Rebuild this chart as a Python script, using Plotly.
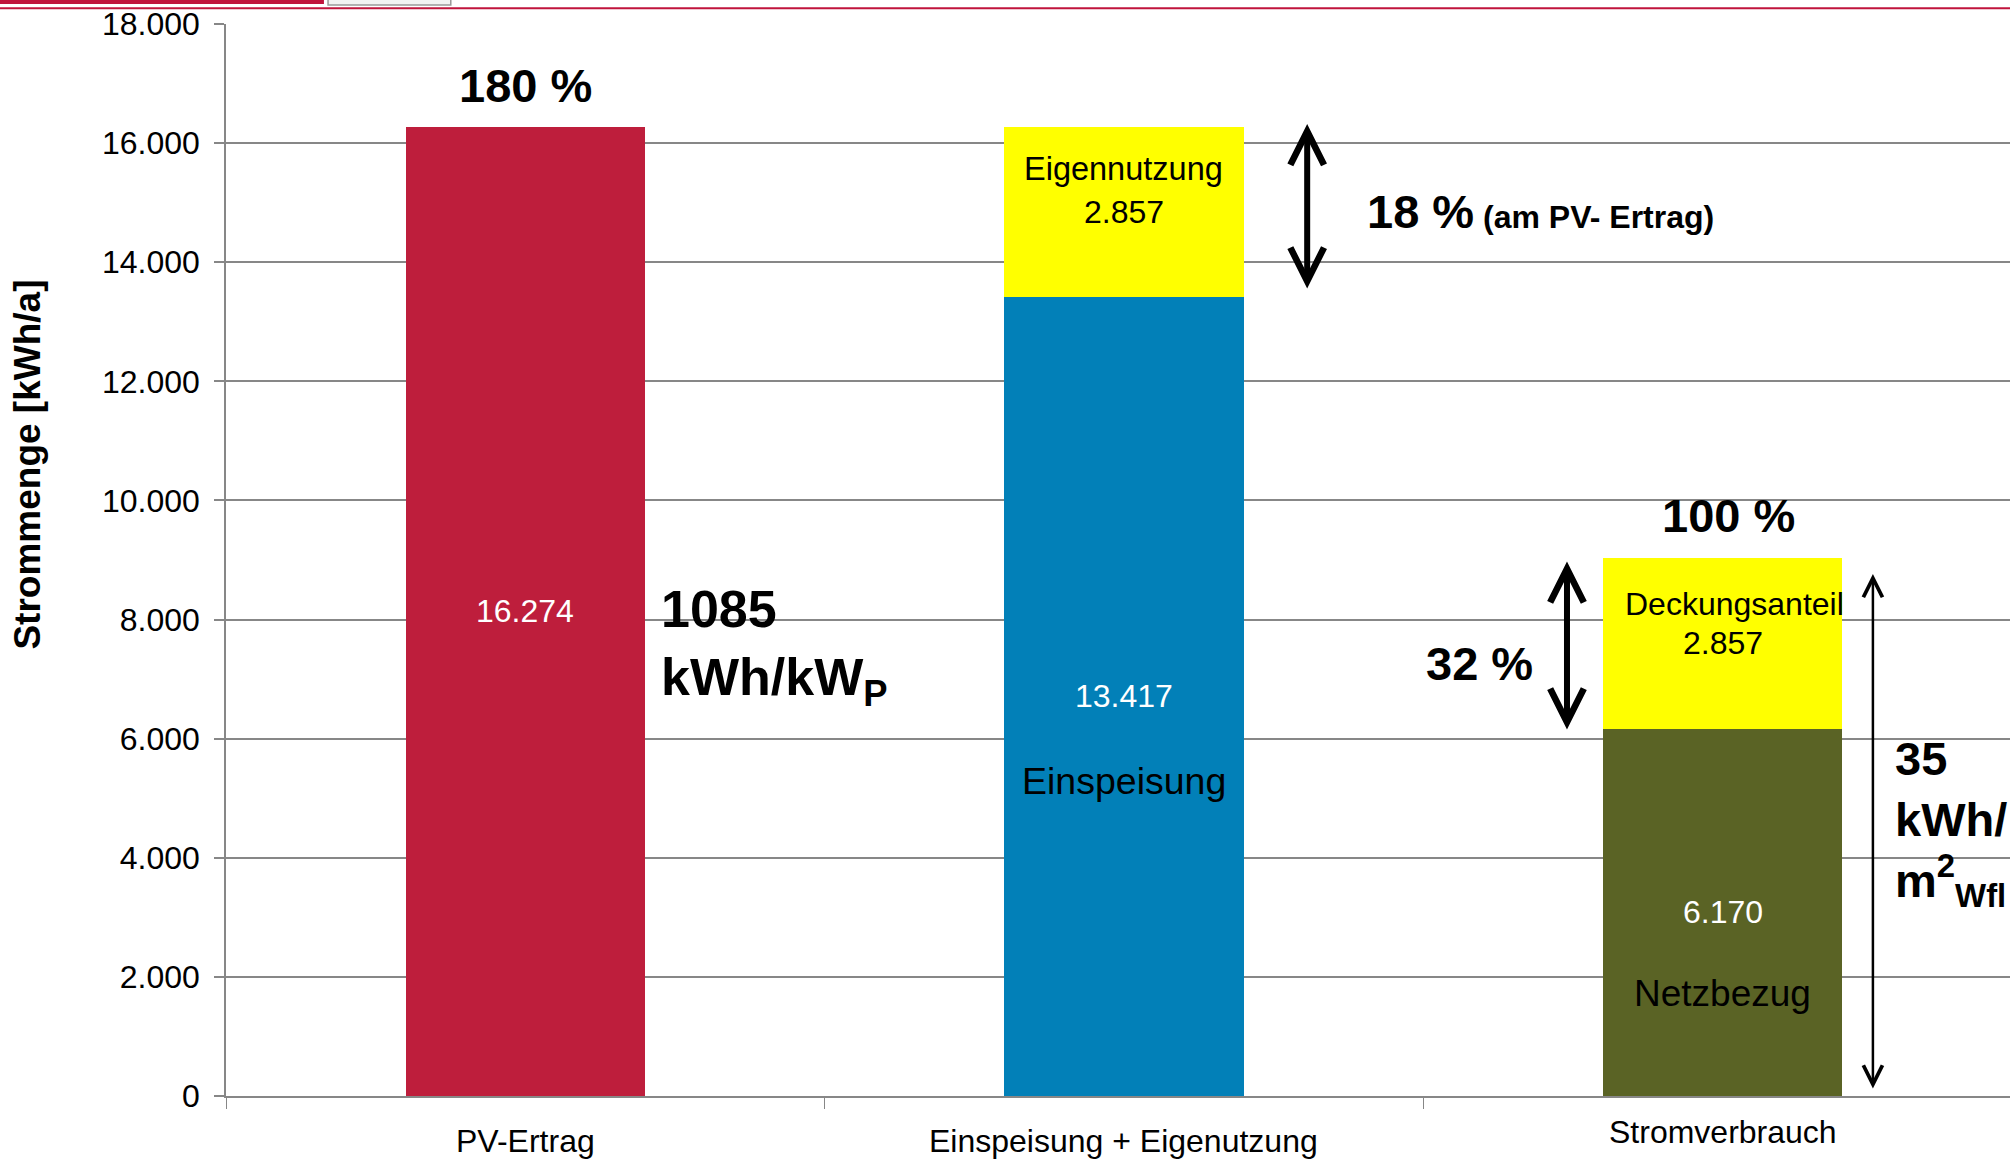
import plotly.graph_objects as go

# data
categories = ["PV-Ertrag", "Einspeisung + Eigenutzung", "Stromverbrauch"]
base_values = [16274, 13417, 6170]
top_values = [0, 2857, 2857]
base_colors = ["#BE1E3C", "#0280B8", "#5A6325"]
top_color = "#FFFF00"

y_ticks = [0, 2000, 4000, 6000, 8000, 10000, 12000, 14000, 16000, 18000]

FONT = "Arial, Liberation Sans, sans-serif"


def de(v):
    # german thousands separator
    return f"{v:,}".replace(",", ".")


fig = go.Figure()

fig.add_trace(go.Bar(
    x=categories, y=base_values, width=0.4,
    marker=dict(color=base_colors, line=dict(width=0)),
    hoverinfo="skip", showlegend=False,
))
fig.add_trace(go.Bar(
    x=categories, y=top_values, width=0.4,
    marker=dict(color=top_color, line=dict(width=0)),
    hoverinfo="skip", showlegend=False,
))

annotations = []


def label(x, y, text, size, color="black", xanchor="center", yanchor="middle",
          bold=False, yref="y"):
    if bold:
        text = f"<b>{text}</b>"
    annotations.append(dict(
        x=x, y=y, xref="x", yref=yref, text=text, showarrow=False,
        xanchor=xanchor, yanchor=yanchor, align="left" if xanchor == "left" else "center",
        font=dict(family=FONT, size=size, color=color),
    ))


def arrow(x, y0, y1, width, size):
    annotations.append(dict(
        x=x, y=y0, ax=x, ay=y1, xref="x", yref="y", axref="x", ayref="y",
        text="", showarrow=True, arrowside="end+start",
        arrowhead=5, startarrowhead=5, arrowwidth=width,
        arrowsize=size, startarrowsize=size, arrowcolor="black",
        standoff=0, startstandoff=0,
    ))


# values inside the bars
label(0, base_values[0] / 2, de(base_values[0]), 32, "white")
label(1, base_values[1] / 2, de(base_values[1]), 32, "white")
label(1, 5290, "Einspeisung", 37.5)
label(1, 15565, "Eigennutzung", 32.5)
label(1, base_values[1] + top_values[1] / 2, de(top_values[1]), 32)
label(2.02, 8261, "Deckungsanteil", 32)
label(2, base_values[2] + top_values[2] / 2, de(top_values[2]), 32)
label(2, base_values[2] / 2, de(base_values[2]), 32, "white")
label(2, 1720, "Netzbezug", 37)

# percentages and key figures
label(0, 16960, "180 %", 47, bold=True)
label(0.223, 7540, "1085<br>kWh/kW<sub>P</sub>", 52, xanchor="left", bold=True)
label(1.402, 14852, "18 %<span style='font-size:32px'> (am PV- Ertrag)</span>", 47,
      xanchor="left", bold=True)
label(1.686, 7270, "32 %", 47, xanchor="right", bold=True)
label(2.009, 9750, "100 %", 47, bold=True)
label(2.285, 4584, "35<br>kWh/<br>m<sup>2</sup><sub>Wfl</sub>", 47, xanchor="left", bold=True)

arrow(1.306, 16321, 13534, 6, 1.1)
arrow(1.74, 8975, 6129, 6, 1.1)
arrow(2.251, 8765, 100, 2.5, 1.5)

# category labels below the axis
label(0, -0.042, categories[0], 32, yref="paper")
label(1, -0.042, categories[1], 32, yref="paper")
label(2, -0.0336, categories[2], 32, yref="paper")

# y axis title
annotations.append(dict(
    x=-0.111, y=0.589, xref="paper", yref="paper", text="<b>Strommenge [kWh/a]</b>",
    textangle=-90, showarrow=False, xanchor="center", yanchor="middle",
    font=dict(family=FONT, size=37, color="black"),
))

fig.update_layout(
    barmode="stack",
    width=2010, height=1159,
    margin=dict(l=226, r=0, t=24, b=63),
    paper_bgcolor="white", plot_bgcolor="white",
    separators=",.",
    font=dict(family=FONT, size=30, color="black"),
    annotations=annotations,
    shapes=[
        # header decoration at the top edge
        dict(type="rect", xref="paper", yref="paper", x0=-0.127, x1=0.0549,
             y0=1.0187, y1=1.03, fillcolor="#C0143C", line=dict(width=0), layer="above"),
        dict(type="rect", xref="paper", yref="paper", x0=0.0572, x1=0.126,
             y0=1.0177, y1=1.03, fillcolor="#F2F2F2", line=dict(color="#999999", width=1.5),
             layer="above"),
        dict(type="line", xref="paper", yref="paper", x0=-0.127, x1=1.0,
             y0=1.0146, y1=1.0146, line=dict(color="#C0143C", width=2), layer="above"),
    ],
)

fig.update_xaxes(
    type="category", range=[-0.5, 2.48],
    showticklabels=False, showgrid=False,
    showline=True, linecolor="#878787", linewidth=2,
    ticks="outside", tickson="boundaries", ticklen=11, tickcolor="#878787", tickwidth=1,
    fixedrange=True,
)
fig.update_yaxes(
    range=[0, 18000], tickvals=y_ticks, tickformat=",d",
    showgrid=True, gridcolor="#878787", gridwidth=2,
    showline=True, linecolor="#878787", linewidth=1.5,
    ticks="outside", ticklen=10, tickcolor="#878787", tickwidth=1.5,
    ticklabelstandoff=8,
    tickfont=dict(family=FONT, size=32, color="black"),
    zeroline=False, fixedrange=True,
)

# drop the default page margin so the chart sits at the window corner
fig.write_html("out.html", config={"displayModeBar": False},
               post_script="document.body.style.margin='0';")
